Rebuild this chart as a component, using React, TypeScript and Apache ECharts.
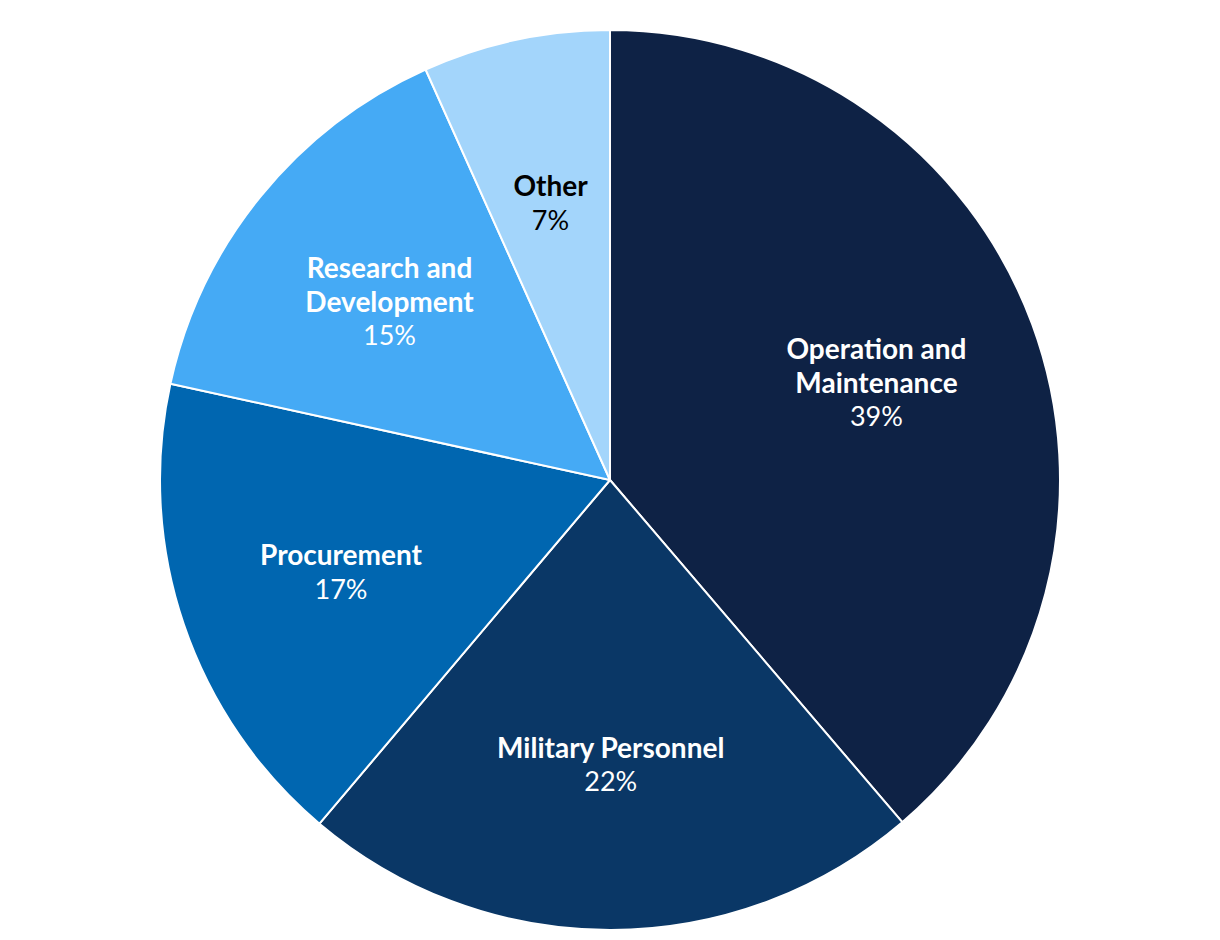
import React, { useEffect, useRef } from "react";
import * as echarts from "echarts";

const categories = ["Operation and\nMaintenance", "Military Personnel", "Procurement", "Research and\nDevelopment", "Other"];
const values = [38.75, 22.42, 17.26, 14.85, 6.72];
const colors = ["#0e2245", "#0a3766", "#0066b0", "#45aaf5", "#a3d5fb"];
const labelColors = ["#ffffff", "#ffffff", "#ffffff", "#ffffff", "#000000"];

export default function App() {
  const ref = useRef<HTMLDivElement>(null);
  useEffect(() => {
    if (!ref.current) return;
    const chart = echarts.init(ref.current, undefined, { renderer: "svg" });
    const pieData = categories.map((name, i) => ({
      name,
      value: values[i],
      itemStyle: { color: colors[i] },
    }));
    const labelData = categories.map((name, i) => ({
      name,
      value: values[i],
      label: {
        rich: {
          n: { fontFamily: "Lato", fontWeight: "bold", fontSize: 28, lineHeight: 34, color: labelColors[i], align: "center" },
          p: { fontFamily: "Lato", fontWeight: "normal", fontSize: 27, lineHeight: 34, color: labelColors[i], align: "center" },
        },
      },
    }));
    chart.setOption({
      animation: false,
      backgroundColor: "#ffffff",
      series: [
        {
          type: "pie",
          center: [610, 480],
          radius: [0, 450],
          startAngle: 90,
          clockwise: true,
          silent: true,
          label: { show: false },
          labelLine: { show: false },
          itemStyle: { borderColor: "#ffffff", borderWidth: 2 },
          data: pieData,
        },
        {
          type: "pie",
          center: [610, 480],
          radius: [112, 450],
          startAngle: 90,
          clockwise: true,
          silent: true,
          z: 3,
          itemStyle: { color: "rgba(0,0,0,0)", borderWidth: 0 },
          labelLine: { show: false },
          label: {
            show: true,
            position: "inside",
            formatter: (p: any) => {
              const lines = String(p.name).split("\n").map((l: string) => `{n|${l}}`).join("\n");
              return `${lines}\n{p|${Math.round(p.value)}%}`;
            },
          },
          data: labelData,
        },
      ],
    });
    return () => chart.dispose();
  }, []);
  return <div ref={ref} style={{ position: "fixed", left: 0, top: 0, width: 1220, height: 940 }} />;
}
